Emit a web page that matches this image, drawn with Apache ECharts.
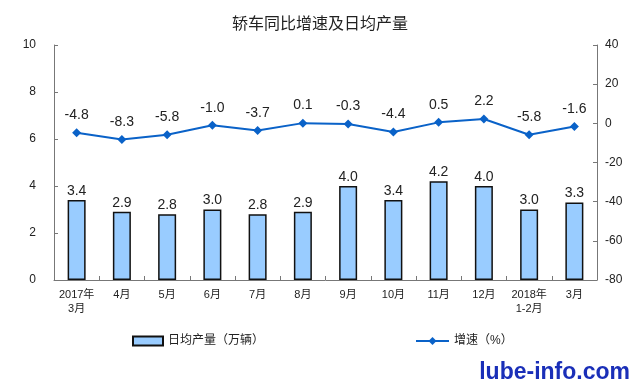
<!DOCTYPE html>
<html><head><meta charset="utf-8">
<script src="https://cdn.jsdelivr.net/npm/echarts@6/dist/echarts.min.js"></script>
<style>html,body{margin:0;padding:0;background:#fff}#c{width:640px;height:389px}</style>
</head><body><div id="c"></div>
<script>
const categories = ['2017年\n3月','4月','5月','6月','7月','8月','9月','10月','11月','12月','2018年\n1-2月','3月'];
const dailyOutput = [3.4, 2.9, 2.8, 3.0, 2.8, 2.9, 4.0, 3.4, 4.2, 4.0, 3.0, 3.3];
const growth = [-4.8, -8.3, -5.8, -1.0, -3.7, 0.1, -0.3, -4.4, 0.5, 2.2, -5.8, -1.6];
const leftTicks = [0, 2, 4, 6, 8, 10];
const rightTicks = [-80, -60, -40, -20, 0, 20, 40];

const chart = echarts.init(document.getElementById('c'));
const font = 'Arial, "Liberation Sans", "Noto Sans CJK SC", sans-serif';
chart.setOption({
  animation: false,
  backgroundColor: '#fff',
  title: {
    text: '轿车同比增速及日均产量', left: 'center', top: 10,
    textStyle: { fontSize: 16, fontWeight: 'normal', color: '#222', fontFamily: '"Noto Sans CJK SC", sans-serif' }
  },
  grid: { left: 54, right: 43, top: 45, bottom: 109 },
  legend: [
    { data: [{ name: '日均产量（万辆）', icon: 'rect' }], left: 127, top: 330, itemWidth: 30, itemHeight: 9,
      textStyle: { fontSize: 12, color: '#222', fontFamily: font } },
    { data: ['增速（%）'], left: 410, top: 330, itemWidth: 33, itemHeight: 10,
      textStyle: { fontSize: 12, color: '#222', fontFamily: font } }
  ],
  xAxis: {
    type: 'category', data: categories,
    axisLine: { lineStyle: { color: '#777', width: 1 } },
    axisTick: { show: true, alignWithLabel: false, inside: true, length: 4, lineStyle: { color: '#777' } },
    axisLabel: { interval: 0, fontSize: 11, color: '#222', fontFamily: font, lineHeight: 14, margin: 8 }
  },
  yAxis: [
    { type: 'value', min: leftTicks[0], max: leftTicks[leftTicks.length-1], interval: 2, position: 'left',
      splitLine: { show: false },
      axisLine: { show: true, lineStyle: { color: '#777' } },
      axisTick: { show: true, inside: true, length: 4, lineStyle: { color: '#777' } },
      axisLabel: { fontSize: 12, color: '#222', fontFamily: font, margin: 18 } },
    { type: 'value', min: rightTicks[0], max: rightTicks[rightTicks.length-1], interval: 20, position: 'right',
      splitLine: { show: false },
      axisLine: { show: true, lineStyle: { color: '#777' } },
      axisTick: { show: true, inside: true, length: 4, lineStyle: { color: '#777' } },
      axisLabel: { fontSize: 12, color: '#222', fontFamily: font, margin: 8 } }
  ],
  series: [
    { name: '日均产量（万辆）', type: 'bar', yAxisIndex: 0, data: dailyOutput, barWidth: 18,
      itemStyle: { color: '#99CCFF', borderColor: '#111', borderWidth: 1.5 },
      label: { show: true, position: 'top', distance: 2, fontSize: 14, color: '#222', fontFamily: font,
        formatter: p => p.value.toFixed(1) } },
    { name: '增速（%）', type: 'line', yAxisIndex: 1, data: growth,
      symbol: 'diamond', symbolSize: 9,
      lineStyle: { color: '#0A62C8', width: 2 },
      itemStyle: { color: '#0A62C8' },
      label: { show: true, position: 'top', distance: 6, fontSize: 14, color: '#222', fontFamily: font,
        formatter: p => p.value.toFixed(1) } }
  ],
  graphic: [
    { type: 'text', right: 10, top: 361,
      style: { text: 'lube-info.com', fill: '#1A2FB8', font: 'bold 23px Arial, "Liberation Sans", sans-serif' } }
  ]
});
</script></body></html>
